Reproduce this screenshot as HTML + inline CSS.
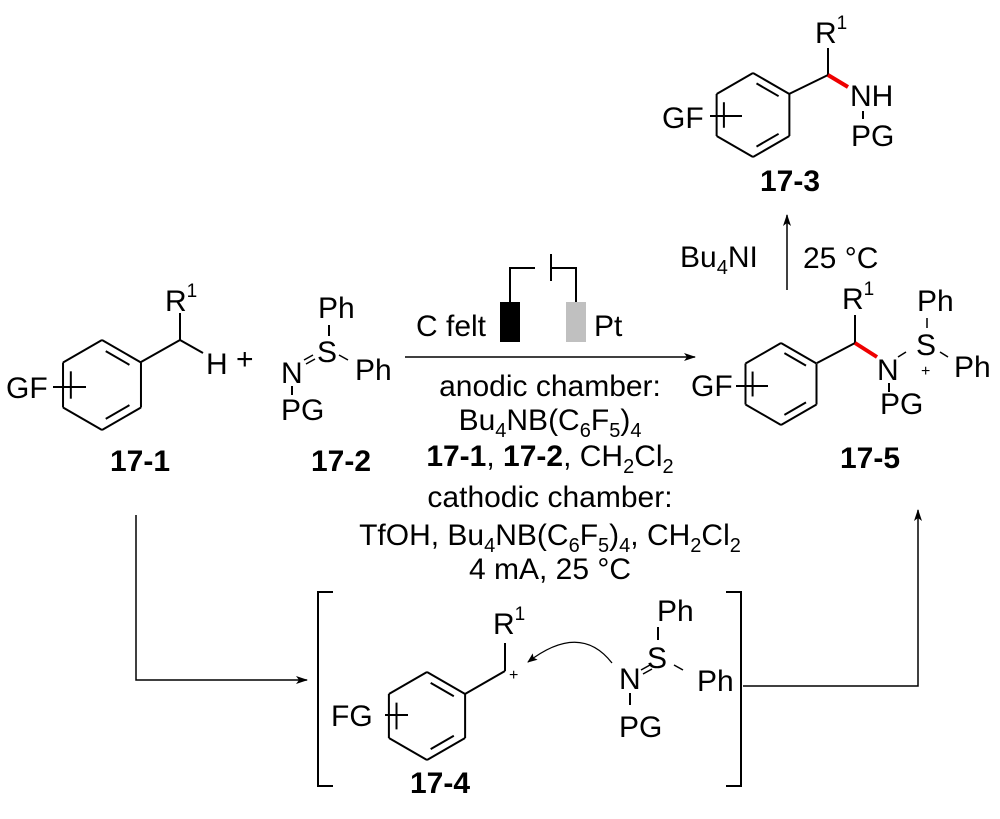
<!DOCTYPE html>
<html><head><meta charset="utf-8"><style>
html,body{margin:0;padding:0;background:#fff}
svg{display:block}
text{font-family:"Liberation Sans",Arial,sans-serif;fill:#000}
.b{font-weight:bold}
</style></head><body>
<svg id="s" width="1000" height="819" viewBox="0 0 1000 819" xmlns="http://www.w3.org/2000/svg">
<defs>
<marker id="ah" markerWidth="12" markerHeight="8" refX="11" refY="4" orient="auto" markerUnits="userSpaceOnUse">
<path d="M0,0 L12,4 L0,8 L3,4 z" fill="#000"/></marker>
<marker id="ah2" markerWidth="10" markerHeight="8" refX="9" refY="4" orient="auto" markerUnits="userSpaceOnUse">
<path d="M0,0 L10,4 L0,8 L2,4 z" fill="#000"/></marker>
</defs>
<g id="rings" stroke="#000" stroke-width="2" fill="none"></g>
<g stroke="#000" stroke-width="2" fill="none">
<line x1="141" y1="362" x2="180" y2="340"/><line x1="180" y1="340" x2="180" y2="313"/><line x1="180" y1="340" x2="203" y2="353"/>
<line x1="53" y1="387" x2="86" y2="387"/>
<line x1="329" y1="325" x2="329" y2="336"/><line x1="292" y1="386" x2="292" y2="395"/>
<line x1="304" y1="360" x2="313" y2="355" stroke-width="1.5"/><line x1="306" y1="364" x2="315" y2="359" stroke-width="1.5"/>
<line x1="339" y1="355" x2="348" y2="360" stroke-width="1.5"/>
<line x1="789" y1="94" x2="828" y2="75"/><line x1="828" y1="75" x2="828" y2="48"/>
<line x1="828" y1="75" x2="848" y2="87" stroke="#e00" stroke-width="4"/>
<line x1="863" y1="111" x2="863" y2="119"/>
<line x1="710" y1="116" x2="742" y2="116"/>
<line x1="817" y1="363" x2="855" y2="343"/><line x1="855" y1="343" x2="855" y2="315"/>
<line x1="855" y1="343" x2="877" y2="357" stroke="#e00" stroke-width="4"/>
<line x1="889" y1="383" x2="889" y2="392"/>
<line x1="898" y1="357" x2="906" y2="352" stroke-width="1.5"/>
<line x1="927" y1="318" x2="927" y2="328" stroke-width="1.5"/>
<line x1="940" y1="352" x2="948" y2="357" stroke-width="1.5"/>
<line x1="736" y1="386" x2="768" y2="386"/>
<line x1="465" y1="694" x2="505" y2="671"/><line x1="505" y1="671" x2="505" y2="643"/>
<line x1="385" y1="715" x2="408" y2="715"/>
<line x1="658" y1="627" x2="658" y2="640"/><line x1="630" y1="693" x2="630" y2="705"/>
<line x1="641" y1="670" x2="650" y2="665" stroke-width="1.5"/><line x1="643" y1="674" x2="652" y2="669" stroke-width="1.5"/>
<line x1="674" y1="665" x2="683" y2="670" stroke-width="1.5"/>
<path d="M612,663 Q580,622 528,662" stroke-width="1.3" marker-end="url(#ah2)"/>
<path d="M333,592 H318 V786 H333"/><path d="M726,592 H741 V786 H726"/>
<line x1="405" y1="357" x2="695" y2="357" stroke-width="1.5" marker-end="url(#ah)"/>
<line x1="787" y1="290" x2="787" y2="215" stroke-width="1.5" marker-end="url(#ah)"/>
<path d="M136,515 V680 H307" stroke-width="1.5" marker-end="url(#ah)"/>
<path d="M743,686 H918 V510" stroke-width="1.5" marker-end="url(#ah)"/>
<path d="M510,302 V268 H535"/><path d="M551,254 V281"/><path d="M551,268 H576 V302"/>
</g>
<rect x="500" y="302" width="20" height="40" fill="#000"/>
<rect x="566" y="302" width="20" height="40" fill="#c0c0c0"/>
<g font-size="30">
<text x="6" y="398">GF</text>
<text x="165" y="311">R<tspan font-size="19" dy="-14">1</tspan></text>
<text x="206" y="374">H</text>
<text x="236" y="369">+</text>
<text x="318" y="318">Ph</text>
<text x="317" y="362">S</text>
<text x="355" y="380">Ph</text>
<text x="281" y="383">N</text>
<text x="281" y="420">PG</text>
<text class="b" x="140" y="471" text-anchor="middle">17-1</text>
<text class="b" x="341" y="471" text-anchor="middle">17-2</text>
<text x="416" y="336">C felt</text>
<text x="594" y="336">Pt</text>
<g text-anchor="middle">
<text x="550" y="396">anodic chamber:</text>
<text x="550" y="430">Bu<tspan font-size="20" dy="7">4</tspan><tspan dy="-7">NB(C</tspan><tspan font-size="20" dy="7">6</tspan><tspan dy="-7">F</tspan><tspan font-size="20" dy="7">5</tspan><tspan dy="-7">)</tspan><tspan font-size="20" dy="7">4</tspan></text>
<text x="550" y="466"><tspan class="b">17-1</tspan>, <tspan class="b">17-2</tspan>, CH<tspan font-size="20" dy="7">2</tspan><tspan dy="-7">Cl</tspan><tspan font-size="20" dy="7">2</tspan></text>
<text x="550" y="507">cathodic chamber:</text>
<text x="550" y="545">TfOH, Bu<tspan font-size="20" dy="7">4</tspan><tspan dy="-7">NB(C</tspan><tspan font-size="20" dy="7">6</tspan><tspan dy="-7">F</tspan><tspan font-size="20" dy="7">5</tspan><tspan dy="-7">)</tspan><tspan font-size="20" dy="7">4</tspan><tspan dy="-7">, CH</tspan><tspan font-size="20" dy="7">2</tspan><tspan dy="-7">Cl</tspan><tspan font-size="20" dy="7">2</tspan></text>
<text x="550" y="579">4 mA, 25 °C</text>
</g>
<text x="662" y="128">GF</text>
<text x="815" y="43">R<tspan font-size="19" dy="-14">1</tspan></text>
<text x="850" y="106">NH</text>
<text x="851" y="146">PG</text>
<text class="b" x="790" y="191" text-anchor="middle">17-3</text>
<text x="680" y="267">Bu<tspan font-size="20" dy="7">4</tspan><tspan dy="-7">NI</tspan></text>
<text x="803" y="268">25 °C</text>
<text x="691" y="396">GF</text>
<text x="842" y="309">R<tspan font-size="19" dy="-14">1</tspan></text>
<text x="877" y="380">N</text>
<text x="916" y="355">S</text>
<text x="921" y="376" font-size="16">+</text>
<text x="917" y="311">Ph</text>
<text x="954" y="377">Ph</text>
<text x="880" y="414">PG</text>
<text class="b" x="870" y="468" text-anchor="middle">17-5</text>
<text x="331" y="726">FG</text>
<text x="493" y="634">R<tspan font-size="19" dy="-14">1</tspan></text>
<text x="509" y="680" font-size="16">+</text>
<text x="657" y="621">Ph</text>
<text x="647" y="668">S</text>
<text x="697" y="691">Ph</text>
<text x="619" y="689">N</text>
<text x="619" y="737">PG</text>
<text class="b" x="440" y="793" text-anchor="middle">17-4</text>
</g>
</svg>
<script>
(function(){
var g=document.getElementById('rings');var ns='http://www.w3.org/2000/svg';
function L(a,b,c,d){var l=document.createElementNS(ns,'line');l.setAttribute('x1',a);l.setAttribute('y1',b);l.setAttribute('x2',c);l.setAttribute('y2',d);g.appendChild(l);}
function ring(cx,cy,r){var v=[];for(var i=0;i<6;i++){var a=(-90+60*i)*Math.PI/180;v.push([cx+r*Math.cos(a),cy+r*Math.sin(a)]);}
for(var i=0;i<6;i++){var p=v[i],q=v[(i+1)%6];L(p[0],p[1],q[0],q[1]);}
[[0,1],[2,3],[4,5]].forEach(function(e){var p=v[e[0]],q=v[e[1]];var k=0.8;
var p2=[cx+k*(p[0]-cx),cy+k*(p[1]-cy)],q2=[cx+k*(q[0]-cx),cy+k*(q[1]-cy)];
var s=0.12;L(p2[0]+(q2[0]-p2[0])*s,p2[1]+(q2[1]-p2[1])*s,p2[0]+(q2[0]-p2[0])*(1-s),p2[1]+(q2[1]-p2[1])*(1-s));});}
ring(102,385,45);ring(753,115,42);ring(781,384,41);ring(427,716,44);
})();
</script>
</body></html>
